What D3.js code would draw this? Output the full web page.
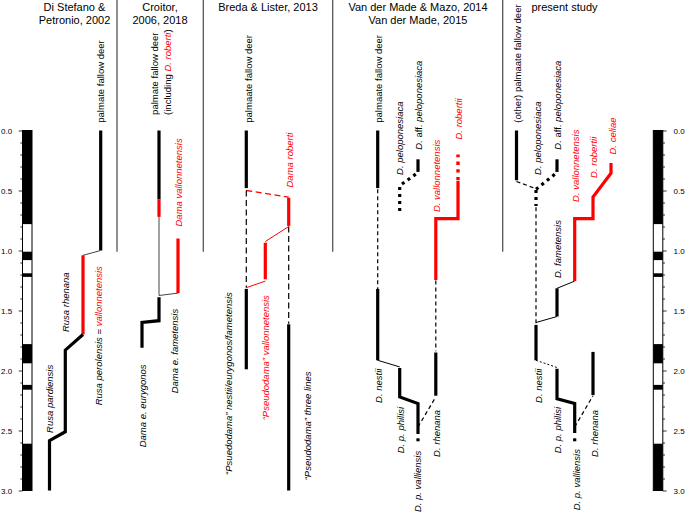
<!DOCTYPE html>
<html><head><meta charset="utf-8">
<script src="https://cdn.jsdelivr.net/npm/d3@7"></script>
<style>
body{margin:0;background:#fff}
svg{display:block;font-family:"Liberation Sans",Arial,Helvetica,sans-serif}
</style>
</head><body>
<svg id="chart" width="685" height="513"></svg>
<script>
// ================= DATA =================
const studyTitles = [
  ["Di Stefano &", "Petronio, 2002"],
  ["Croitor,", "2006, 2018"],
  ["Breda & Lister, 2013"],
  ["Van der Made & Mazo, 2014", "Van der Made, 2015"],
  ["present study"]
];

// normal-polarity intervals (Ma)
const normalChrons = [[0, 0.78], [1.01, 1.08], [1.19, 1.22], [1.78, 1.94], [2.12, 2.16], [2.61, 3.0]];
const majorTicks = [0, 0.5, 1.0, 1.5, 2.0, 2.5, 3.0];
const minorTicks = [0.1,0.2,0.3,0.4,0.6,0.7,0.8,0.9,1.1,1.2,1.3,1.4,1.6,1.7,1.8,1.9,2.1,2.2,2.3,2.4,2.6,2.7,2.8,2.9];

// lanes within each study column
const laneIds = ["d1","d2","d3","d4","c1","c2","c3","b1","b2","b3","v1","v2","v3","v4","v5","p1","p2","p3","p4","p5","p6"];

// lineage segments: style + points [lane, age in Ma]
const lineages = [
  // Di Stefano & Petronio
  {s:"bar",  p:[["d4",0],["d4",1.0]]},
  {s:"gray", p:[["d4",1.0],["d3",1.04]]},
  {s:"red",  p:[["d3",1.04],["d3",1.7]]},
  {s:"bar",  p:[["d3",1.7],["d2",1.83],["d2",2.51],["d1",2.585],["d1",3.0]]},
  // Croitor
  {s:"bar",  p:[["c2",0],["c2",0.575]]},
  {s:"red",  p:[["c2",0.575],["c2",0.72]]},
  {s:"gray", p:[["c2",0.72],["c2",1.375],["c3",1.355]]},
  {s:"red",  p:[["c3",0.9],["c3",1.355]]},
  {s:"bar",  p:[["c2",1.39],["c2",1.585],["c1",1.6],["c1",1.81]]},
  // Breda & Lister
  {s:"bar",     p:[["b1",0],["b1",0.48]]},
  {s:"reddash", p:[["b1",0.5],["b3",0.555]]},
  {s:"red",     p:[["b3",0.56],["b3",0.795]]},
  {s:"dash",    p:[["b1",0.5],["b1",1.31]]},
  {s:"dash",    p:[["b3",0.8],["b3",1.61]]},
  {s:"redthin", p:[["b3",0.8],["b2",0.925]]},
  {s:"red",     p:[["b2",0.935],["b2",1.24]]},
  {s:"redthin", p:[["b2",1.255],["b1",1.31]]},
  {s:"bar",     p:[["b1",1.32],["b1",1.99]]},
  {s:"bar",     p:[["b3",1.615],["b3",3.0]]},
  // Van der Made & Mazo / Van der Made
  {s:"bar",    p:[["v1",0],["v1",0.48]]},
  {s:"dash2",  p:[["v1",0.49],["v1",1.32]]},
  {s:"bar",    p:[["v1",1.32],["v1",1.915]]},
  {s:"thin",   p:[["v1",1.915],["v2",1.97]]},
  {s:"bar",    p:[["v2",1.98],["v2",2.22],["v3",2.275],["v3",2.53]]},
  {s:"dot",    p:[["v3",2.565],["v3",2.6]]},
  {s:"dash2",  p:[["v3",2.47],["v4",2.22]]},
  {s:"bar",    p:[["v4",1.85],["v4",2.21]]},
  {s:"dash2",  p:[["v4",1.25],["v4",1.84]]},
  {s:"red",    p:[["v4",1.245],["v4",0.735],["v5",0.735],["v5",0.42]]},
  {s:"reddot", p:[["v5",0.415],["v5",0.2]]},
  {s:"dot",    p:[["v2",0.67],["v2",0.46],["v3",0.35]]},
  {s:"bar",    p:[["v3",0.345],["v3",0.24]]},
  // present study
  {s:"bar",     p:[["p1",0],["p1",0.415]]},
  {s:"dash2",   p:[["p1",0.425],["p2",0.485]]},
  {s:"dot",     p:[["p2",0.495],["p2",0.63]]},
  {s:"dash2",   p:[["p2",0.64],["p2",1.61]]},
  {s:"dot",     p:[["p2",0.49],["p3",0.35]]},
  {s:"bar",     p:[["p3",0.345],["p3",0.24]]},
  {s:"bar",     p:[["p2",1.62],["p2",1.915]]},
  {s:"thin",    p:[["p2",1.6],["p3",1.55]]},
  {s:"bar",     p:[["p3",1.55],["p3",1.315]]},
  {s:"thin",    p:[["p3",1.315],["p4",1.255]]},
  {s:"red",     p:[["p4",1.255],["p4",0.735],["p5",0.735],["p5",0.555],["p6",0.355],["p6",0.27]]},
  {s:"dotthin", p:[["p2",1.915],["p3",1.975]]},
  {s:"bar",     p:[["p3",1.985],["p3",2.235],["p4",2.275],["p4",2.52]]},
  {s:"dot",     p:[["p4",2.565],["p4",2.6]]},
  {s:"dash2",   p:[["p4",2.47],["p5",2.21]]},
  {s:"bar",     p:[["p5",1.845],["p5",2.205]]}
];

// species labels: text parts [text, style] and age (Ma) where the rotated text begins
// styles: n = normal, i = italic, r = red italic
const speciesLabels = [
  {parts:[["palmate fallow deer","n"]], at:-0.065},
  {parts:[["Rusa rhenana","i"]], at:1.68},
  {parts:[["Rusa pardiensis","i"]], at:2.52},
  {parts:[["Rusa perolensis = ","i"],["vallonnetensis","r"]], at:2.29},
  {parts:[["palmate fallow deer","n"]], at:-0.13},
  {parts:[["(including ","n"],["D. roberti","r"],[")","n"]], at:-0.13},
  {parts:[["Dama vallonnetensis","r"]], at:0.80},
  {parts:[["Dama e. fametensis","i"]], at:2.19},
  {parts:[["Dama e. eurygonos","i"]], at:2.64},
  {parts:[["palmaate fallow deer","n"]], at:-0.065},
  {parts:[["Dama roberti","r"]], at:0.475},
  {parts:[["\u201CPseudodama\u201D vallonnetensis","r"]], at:2.415},
  {parts:[["\u201CPsuedodama\u201D nestii/eurygonos/fametensis","i"]], at:2.87},
  {parts:[["\u201CPseudodama\u201D three lines","i"]], at:2.915},
  {parts:[["palmaate fallow deer","n"]], at:-0.065},
  {parts:[["D. peloponesiaca","i"]], at:0.37},
  {parts:[["D. ","i"],["aff. ","n"],["peloponesiaca","i"]], at:0.16},
  {parts:[["D. vallonnetensis","r"]], at:0.68},
  {parts:[["D. robertii","r"]], at:0.075},
  {parts:[["D. nestii","i"]], at:2.27},
  {parts:[["D. p. philisi","i"]], at:2.69},
  {parts:[["D. p. valliensis","i"]], at:3.18},
  {parts:[["D. rhenana","i"]], at:2.72},
  {parts:[["(other) palmaate fallow deer","n"]], at:-0.065},
  {parts:[["D. peloponesiaca","i"]], at:0.37},
  {parts:[["D. ","i"],["aff. ","n"],["peloponesiaca","i"]], at:0.16},
  {parts:[["D. vallonnetensis","r"]], at:0.595},
  {parts:[["D. robertii","r"]], at:0.395},
  {parts:[["D. celiae","r"]], at:0.2},
  {parts:[["D. fametensis","i"]], at:1.23},
  {parts:[["D. nestii","i"]], at:2.27},
  {parts:[["D. p. philisi","i"]], at:2.69},
  {parts:[["D. p. valliensis","i"]], at:3.165},
  {parts:[["D. rhenana","i"]], at:2.72}
];

// ================= LAYOUT =================
const lanePx = [49.5,65.3,83,100.7, 142,159,178, 246.3,265.3,288.7, 377.7,399.7,418,435.8,458, 516.5,536,557,574.7,593,611];
const labelPx = [100.5,66,49.5,98.5, 155,167.5,179,174.5,142.5, 248.5,290,266,229,307.5,
                 379,400,419,436.5,459,379,401,417.5,436.5,
                 517.5,537.5,558,575.5,593.5,612.5,558,538.5,558,576.5,594.5];
const titleX = [74.5,160,268,418,564.5];
const separatorX = [117, 203.3, 332.7, 502.7];
const RED = "#ff0000";
const styles = {
  bar:     {c:"#000", w:3.2},
  red:     {c:RED,    w:3.2},
  thin:    {c:"#000", w:1},
  gray:    {c:"#444", w:1},
  redthin: {c:RED,    w:1},
  dash:    {c:"#000", w:1.2, d:"6,3.5"},
  dash2:   {c:"#000", w:1.2, d:"4,3"},
  reddash: {c:RED,    w:1.3, d:"6,3.5"},
  dot:     {c:"#000", w:3.2, d:"3,4"},
  reddot:  {c:RED,    w:3.4, d:"3.4,4.3"},
  dotthin: {c:"#000", w:1, d:"2,2"}
};

// ================= DRAW =================
const svg = d3.select("#chart");
const y = d3.scaleLinear().domain([0, 3]).range([130.5, 490.5]);
const x = d3.scaleOrdinal().domain(laneIds).range(lanePx);

// titles
studyTitles.forEach((lines, i) => {
  const t = svg.append("text").attr("x", titleX[i]).attr("y", 11)
    .attr("text-anchor", "middle").attr("font-size", 11).attr("fill", "#000");
  lines.forEach((ln, j) => t.append("tspan").attr("x", titleX[i]).attr("y", 11 + j * 13).text(ln));
});

// separators
svg.selectAll("line.sep").data(separatorX).enter().append("line")
  .attr("x1", d => d).attr("x2", d => d).attr("y1", 0).attr("y2", y(1.01))
  .attr("stroke", "#555").attr("stroke-width", 1.3);

// polarity columns with axes
function polarity(x0, w, side) {
  const g = svg.append("g");
  g.append("rect").attr("x", x0).attr("y", y(0)).attr("width", w).attr("height", y(3) - y(0))
    .attr("fill", "#fff").attr("stroke", "#000").attr("stroke-width", 1);
  g.selectAll("rect.n").data(normalChrons).enter().append("rect")
    .attr("x", x0).attr("width", w).attr("y", d => y(d[0])).attr("height", d => y(d[1]) - y(d[0]))
    .attr("fill", "#000");
  const ax = side === "left" ? d3.axisLeft : d3.axisRight;
  const pos = side === "left" ? x0 : x0 + w;
  const minor = svg.append("g").attr("transform", `translate(${pos},0)`)
    .call(ax(y).tickValues(minorTicks).tickSize(2.2).tickFormat(""));
  const major = svg.append("g").attr("transform", `translate(${pos},0)`)
    .call(ax(y).tickValues(majorTicks).tickSize(3.8).tickPadding(side === "left" ? 6.5 : 7).tickFormat(d3.format(".1f")));
  [minor, major].forEach(a => {
    a.select(".domain").remove();
    a.selectAll("line").attr("stroke", "#000").attr("stroke-width", 0.8);
    a.selectAll("text").attr("font-size", 8).attr("fill", "#000")
      .attr("font-family", "Liberation Sans, Arial, sans-serif");
  });
}
polarity(22.5, 9.5, "left");
polarity(653.3, 9.5, "right");

// lineages
const line = d3.line().x(d => x(d[0])).y(d => y(d[1]));
svg.append("g").selectAll("path").data(lineages).enter().append("path")
  .attr("d", d => line(d.p))
  .attr("fill", "none")
  .attr("stroke", d => styles[d.s].c)
  .attr("stroke-width", d => styles[d.s].w)
  .attr("stroke-dasharray", d => styles[d.s].d || null)
  .attr("stroke-linejoin", "miter")
  .attr("stroke-linecap", "butt");

// labels
const lg = svg.append("g");
speciesLabels.forEach((lab, i) => {
  const t = lg.append("text")
    .attr("transform", `translate(${labelPx[i]},${y(lab.at)}) rotate(-90)`)
    .attr("text-anchor", "start").attr("dy", "0.35em").attr("font-size", 9.5);
  lab.parts.forEach(([txt, st]) => {
    t.append("tspan").text(txt)
      .attr("font-style", st === "n" ? "normal" : "italic")
      .attr("fill", st === "r" ? RED : "#000");
  });
});
</script>
</body></html>
